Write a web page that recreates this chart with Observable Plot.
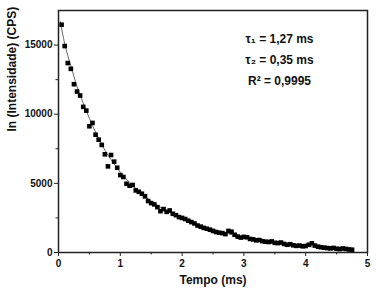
<!DOCTYPE html>
<html><head><meta charset="utf-8">
<script src="https://cdn.jsdelivr.net/npm/d3@7"></script>
<script src="https://cdn.jsdelivr.net/npm/@observablehq/plot@0.6"></script>
<style>body{margin:0;background:#fff}</style>
</head><body><div id="chart"></div>
<script>
const tempo = [0.05,0.10,0.15,0.20,0.25,0.30,0.35,0.40,0.45,0.50,0.55,0.60,0.65,0.70,0.75,0.80,0.85,0.90,0.95,1.00,
1.05,1.10,1.15,1.20,1.25,1.30,1.35,1.40,1.45,1.50,1.55,1.60,1.65,1.70,1.75,1.80,1.85,1.90,1.95,2.00,
2.05,2.10,2.15,2.20,2.25,2.30,2.35,2.40,2.45,2.50,2.55,2.60,2.65,2.70,2.75,2.80,2.85,2.90,2.95,3.00,
3.05,3.10,3.15,3.20,3.25,3.30,3.35,3.40,3.45,3.50,3.55,3.60,3.65,3.70,3.75,3.80,3.85,3.90,3.95,4.00,
4.05,4.10,4.15,4.20,4.25,4.30,4.35,4.40,4.45,4.50,4.55,4.60,4.65,4.70,4.75];
const intensidade = [16470,14930,13700,13280,12170,11640,11350,10530,10260,9130,9370,8520,8160,7780,7100,6230,7050,6570,6130,5600,
5460,4970,4830,4880,4490,4390,4250,4060,3720,3570,3480,3280,2990,3140,2940,3040,2800,2700,2560,2500,
2420,2300,2200,2100,1950,1870,1780,1720,1650,1560,1480,1430,1400,1330,1560,1500,1280,1150,1080,1130,
1100,980,950,880,900,820,780,760,800,700,680,720,620,560,600,520,480,500,450,470,
560,660,500,420,380,350,320,300,330,270,250,290,260,220,200];
const fitTempo = [0.03,0.1,0.2,0.3,0.4,0.5,0.6,0.7,0.8,0.9,1.0,1.2,1.4,1.6,1.8,2.0,2.5,3.0,3.5,4.0,4.5,4.75];
const fitValues = [16700,15100,13500,12000,10800,9700,8700,7800,7050,6400,5800,4850,4050,3400,2900,2450,1650,1100,700,450,280,220];
const xTicks = [0,1,2,3,4,5];
const xMinor = [0.5,1.5,2.5,3.5,4.5];
const yTicks = [0,5000,10000,15000];
const yMinor = [2500,7500,12500];
const annotation = ["τ₁ = 1,27 ms", "τ₂ = 0,35 ms", "R² = 0,9995"];
const xTitle = "Tempo (ms)";
const yTitle = "ln (Intensidade) (CPS)";

const points = tempo.map((t, i) => ({t, v: intensidade[i]}));
const fit = fitTempo.map((t, i) => ({t, v: fitValues[i]}));

const chart = Plot.plot({
  width: 376, height: 297,
  marginLeft: 58, marginRight: 9, marginTop: 10, marginBottom: 45,
  style: {fontFamily: "Liberation Sans, Arial, sans-serif", fontWeight: "bold", fontSize: "10px", color: "#111", background: "#fff"},
  x: {domain: [0, 5]},
  y: {domain: [0, 17500]},
  marks: [
    Plot.axisX({ticks: xTicks, tickSize: 4, tickPadding: 3, tickFormat: d3.format("d"), label: null, fontSize: 10, stroke: "#222"}),
    Plot.axisX({ticks: xMinor, tickSize: 2.5, tickFormat: () => "", label: null, stroke: "#222"}),
    Plot.axisY({ticks: yTicks, tickSize: 4, tickPadding: 2, tickFormat: d3.format("d"), label: null, fontSize: 10, stroke: "#222"}),
    Plot.axisY({ticks: yMinor, tickSize: 2.5, tickFormat: () => "", label: null, stroke: "#222"}),
    Plot.line(fit, {x: "t", y: "v", curve: "monotone-x", stroke: "#666", strokeWidth: 1}),
    Plot.dot(points, {x: "t", y: "v", symbol: "square", r: 2.6, fill: "#000", stroke: "none"}),
    Plot.frame({stroke: "#222", strokeWidth: 1.5}),
    Plot.text([annotation.join("\n")], {frameAnchor: "top-right", dx: -88, dy: 17, textAnchor: "middle", lineAnchor: "top", lineHeight: 1.78, fontSize: 12, fontWeight: "bold", fill: "#111"}),
    Plot.text([xTitle], {frameAnchor: "bottom", dy: 31, fontSize: 12, fontWeight: "bold", fill: "#111"}),
    Plot.text([yTitle], {frameAnchor: "left", dx: -46, rotate: -90, fontSize: 12, fontWeight: "bold", fill: "#111"})
  ]
});
document.getElementById("chart").appendChild(chart);
</script></body></html>
